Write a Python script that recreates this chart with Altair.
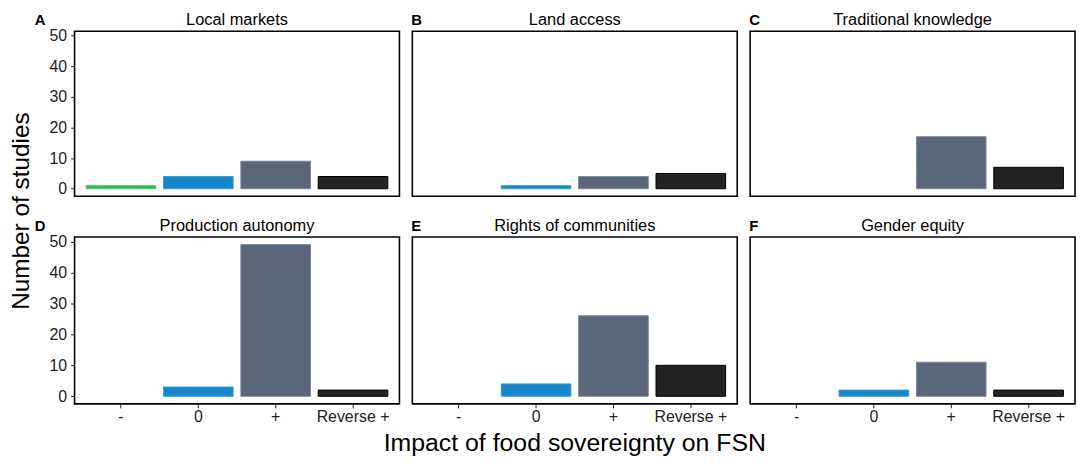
import altair as alt
import pandas as pd

FONT = "Liberation Sans"

categories = ["-", "0", "+", "Reverse +"]
panel_titles = ["Local markets", "Land access", "Traditional knowledge",
                "Production autonomy", "Rights of communities", "Gender equity"]
panel_letters = ["A", "B", "C", "D", "E", "F"]
counts_A = [1, 4, 9, 4]
counts_B = [0, 1, 4, 5]
counts_C = [0, 0, 17, 7]
counts_D = [0, 3, 49, 2]
counts_E = [0, 4, 26, 10]
counts_F = [0, 2, 11, 2]
all_counts = [counts_A, counts_B, counts_C, counts_D, counts_E, counts_F]
bar_colors = ["#2cba50", "#1586c9", "#5b6778", "#232323"]
bar_strokes = ["#4cc86a", "#3a9bd3", "#7b889a", "#000000"]
y_ticks = [0, 10, 20, 30, 40, 50]
x_title = "Impact of food sovereignty on FSN"
y_title = "Number of studies"

PW = 327
PH_ROW = [166, 168]


def panel(i):
    row, col = i // 3, i % 3
    df = pd.DataFrame({"impact": categories, "n": all_counts[i]})
    if row == 1:
        x_axis = alt.Axis(title=None, labelAngle=0, labelFontSize=16, labelFont=FONT,
                          labelColor="#222222", ticks=True, tickSize=4, tickColor="#222222",
                          tickWidth=1, labelPadding=1, domain=False, grid=False)
    else:
        x_axis = None
    if col == 0:
        y_axis = alt.Axis(title=None, values=y_ticks, labelFontSize=16, labelFont=FONT,
                          labelColor="#222222", tickSize=4, tickColor="#222222", tickWidth=1,
                          labelPadding=4, domain=False, grid=False)
    else:
        y_axis = None
    bars = alt.Chart(df).transform_filter("datum.n > 0").mark_bar(strokeWidth=1).encode(
        x=alt.X("impact:N", sort=categories,
                scale=alt.Scale(domain=categories, paddingInner=0.1, paddingOuter=0.15),
                axis=x_axis),
        y=alt.Y("n:Q", scale=alt.Scale(domain=[-2.45, 51.45], nice=False, zero=False),
                axis=y_axis),
        y2=alt.datum(0),
        color=alt.Color("impact:N", scale=alt.Scale(domain=categories, range=bar_colors),
                        legend=None),
        stroke=alt.Stroke("impact:N", scale=alt.Scale(domain=categories, range=bar_strokes),
                          legend=None),
    )
    label_df = pd.DataFrame({"letter": [panel_letters[i]], "title": [panel_titles[i]]})
    letter = alt.Chart(label_df).mark_text(
        align="left", baseline="alphabetic", fontSize=15, fontWeight="bold",
        font=FONT, color="black"
    ).encode(
        x=alt.value(-40 if col == 0 else -1),
        y=alt.value(-6),
        text="letter:N",
    )
    title = alt.Chart(label_df).mark_text(
        align="center", baseline="alphabetic", fontSize=16.5, font=FONT, color="black"
    ).encode(
        x=alt.value(PW / 2),
        y=alt.value(-6),
        text="title:N",
    )
    return alt.layer(bars, letter, title).properties(width=PW, height=PH_ROW[row])


row1 = alt.hconcat(panel(0), panel(1), panel(2), spacing=10)
row2 = alt.hconcat(panel(3), panel(4), panel(5), spacing=10)
grid = alt.vconcat(
    row1, row2, spacing=19,
    title=alt.TitleParams(x_title, orient="bottom", anchor="middle", fontSize=25, font=FONT,
                          fontWeight="normal", color="black", offset=6, dx=20),
)
chart = alt.hconcat(
    grid,
    title=alt.TitleParams(y_title, orient="left", anchor="middle", fontSize=24.5, font=FONT,
                          fontWeight="normal", color="black", offset=0, dx=23),
).properties(
    padding={"left": 0, "top": 2, "right": 0, "bottom": 0}
).configure_view(
    stroke="black", strokeWidth=1.6
)

chart.save("out.html", embed_options={"renderer": "svg", "actions": False})
